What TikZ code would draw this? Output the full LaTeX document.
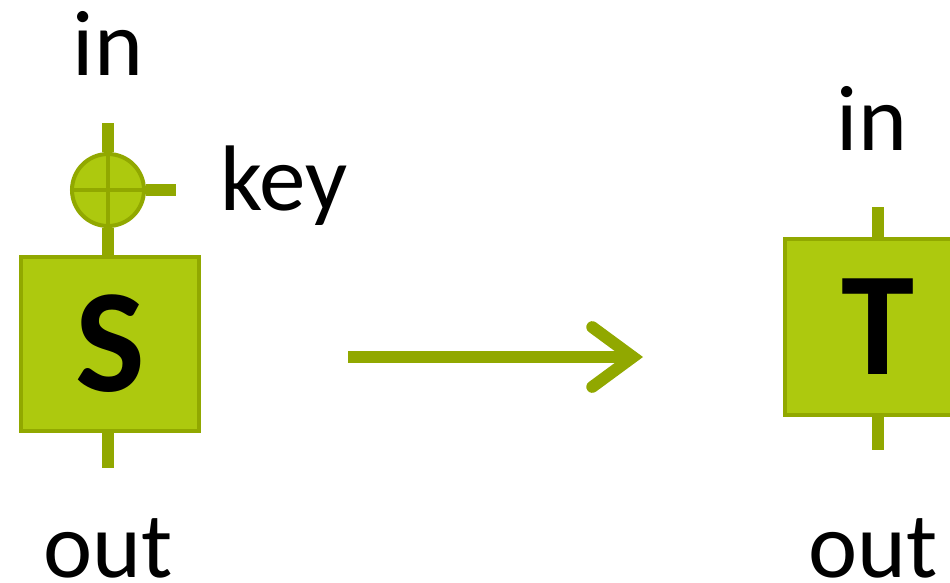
\documentclass[tikz,border=0pt]{standalone}
\usepackage{fontspec}
\setmainfont{Carlito}
\usetikzlibrary{arrows.meta,positioning}
\definecolor{boxfill}{HTML}{ADC90E}
\definecolor{boxline}{HTML}{91A800}
\tikzset{
  cipher/.style={
    shape = rectangle,
    draw = boxline,
    fill = boxfill,
    line width = 2.3pt,
    inner sep = 0pt,
    font = \fontsize{84}{88}\selectfont\bfseries
  },
  xorgate/.style={
    shape = circle,
    draw = boxline,
    fill = boxfill,
    line width = 2.3pt,
    minimum size = 1.44cm,
    inner sep = 0pt
  },
  xorline/.style={
    draw = boxline,
    line width = 2.3pt
  },
  wire/.style={
    draw = boxline,
    line width = 6.5pt
  },
  bigarrow/.style={
    draw = boxline,
    line width = 6.8pt,
    -{Straight Barb[length=0pt 3.4, width=0pt 5, line cap=round, line join=miter]}
  },
  lbl/.style={
    anchor = base,
    inner sep = 0pt,
    font = \fontsize{53}{56}\selectfont
  },
}
\begin{document}
\begin{tikzpicture}[x=0.02cm, y=-0.02cm]
\useasboundingbox (0,0) rectangle (950,582);
\clip (0,0) rectangle (950,582);
% left cipher with key
\node[cipher, minimum width=3.56cm, minimum height=3.48cm] (S) at (110,344) {S};
\node[xorgate] (xor) at (108,190) {};
\draw[xorline] (xor.north) -- (xor.south) (xor.west) -- (xor.east);
\coordinate (Sin) at (108,123);
\coordinate (Sout) at (108,468);
\coordinate (keyin) at (176,190);
\draw[wire] (Sin) -- (xor.north) (xor.south) -- (xor.south |- S.north)
            (xor.east) -- (keyin) (xor.south |- S.south) -- (Sout);
\node[lbl] (Sinlabel) at (108,75) {in};
\node[lbl, anchor=base west] (keylabel) at (220,210) {key};
\node[lbl] (Soutlabel) at (108,577) {out};
% arrow
\coordinate (arrstart) at (348,357);
\coordinate (arrend) at (643,357);
\draw[bigarrow] (arrstart) -- (arrend);
% right cipher
\node[cipher, minimum width=3.72cm, minimum height=3.52cm] (T) at (878,327) {T};
\coordinate (Tin) at (878,207);
\coordinate (Tout) at (878,450);
\draw[wire] (Tin) -- (T.north) (T.south) -- (Tout);
\node[lbl] (Tinlabel) at (872,150) {in};
\node[lbl] (Toutlabel) at (873,577) {out};
\end{tikzpicture}
\end{document}
